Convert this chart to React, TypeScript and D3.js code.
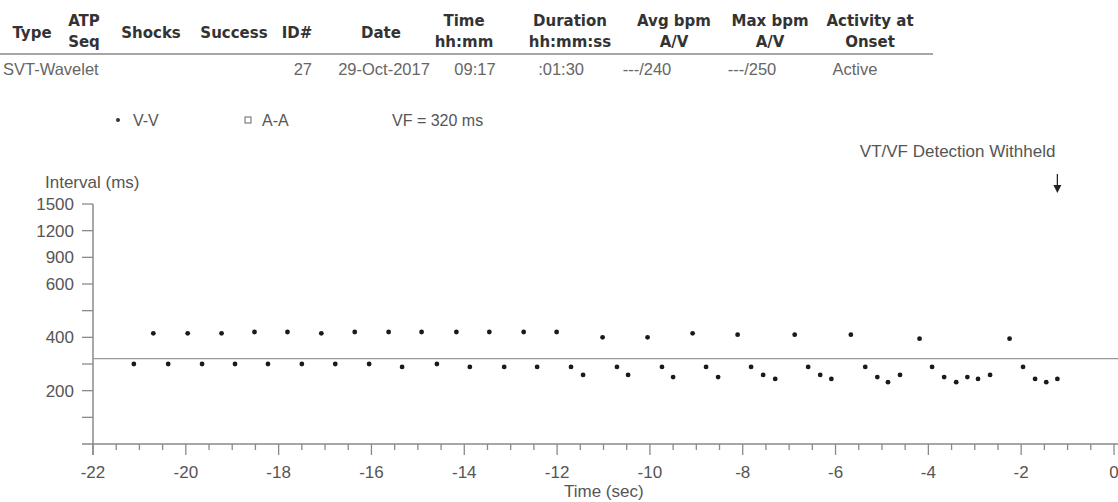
import * as d3 from 'd3';
import React from 'react';

const W = 1118;
const H = 502;

// header table
const headLines = [
  ['Type'], ['ATP', 'Seq'], ['Shocks'], ['Success'], ['ID#'], ['Date'],
  ['Time', 'hh:mm'], ['Duration', 'hh:mm:ss'], ['Avg bpm', 'A/V'], ['Max bpm', 'A/V'], ['Activity at', 'Onset']
];
const rowValues = ['SVT-Wavelet', '', '', '', '27', '29-Oct-2017', '09:17', ':01:30', '---/240', '---/250', 'Active'];

// V-V intervals: time (sec) and interval (ms)
const vvTime = [
  -21.12, -20.70, -20.38, -19.96, -19.65, -19.23, -18.94, -18.52, -18.23, -17.81,
  -17.50, -17.08, -16.78, -16.36, -16.05, -15.63, -15.34, -14.92, -14.59, -14.17,
  -13.88, -13.46, -13.14, -12.72, -12.43, -12.01, -11.70, -11.44, -11.02, -10.71,
  -10.47, -10.05, -9.74, -9.50, -9.08, -8.79, -8.53, -8.11, -7.82, -7.56,
  -7.30, -6.88, -6.59, -6.33, -6.09, -5.67, -5.36, -5.10, -4.87, -4.61,
  -4.19, -3.92, -3.66, -3.40, -3.16, -2.93, -2.67, -2.25, -1.96, -1.70,
  -1.46, -1.22
];
const vvMs = [
  300, 415, 300, 415, 300, 415, 300, 420, 300, 420,
  300, 415, 300, 420, 300, 420, 289, 420, 300, 420,
  289, 420, 289, 420, 289, 420, 289, 259, 400, 289,
  259, 400, 289, 251, 415, 289, 251, 410, 289, 259,
  244, 410, 289, 259, 244, 410, 289, 251, 232, 259,
  395, 289, 251, 232, 251, 244, 259, 395, 289, 244,
  232, 244
];

const xTicks = [-22, -20, -18, -16, -14, -12, -10, -8, -6, -4, -2, 0];
const xMinor = d3.range(-21.5, 0, 0.5);
const yLabelTicks = [200, 400, 600, 900, 1200, 1500];
const yMinorTicks = [100, 300, 500];
const vfMs = 320;
const withheldAt = -1.22;

const legendItems = ['V-V', 'A-A', 'VF = 320 ms'];

// layout
const colX = [32, 84, 151, 234, 297, 381, 464, 570, 674, 770, 870];
const rowX = [3, 0, 0, 0, 312, 384, 475, 584, 647, 752, 855];
const rowAnchor = ['start', 'middle', 'middle', 'middle', 'end', 'middle', 'middle', 'end', 'middle', 'middle', 'middle'];

const x = d3.scaleLinear().domain([-22, 0]).range([93, 1114]);
const y = d3.scaleLinear().domain([0, 600, 1500]).range([444, 284, 204]);

const txt = '#555';
const axisCol = '#8a8a8a';
const font = "'Liberation Sans', Arial, sans-serif";
const headFont = "'DejaVu Sans', Verdana, sans-serif";

export default function App() {
  const ax = x(-22);
  const ay = y(0);
  return (
    <div style={{ position: 'absolute', left: 0, top: 0 }}>
      <svg width={W} height={H} style={{ display: 'block', background: '#fff' }} fontFamily={font}>
        {/* header */}
        {headLines.map((lines, i) => lines.length === 1 ? (
          <text key={i} x={colX[i]} y={38} textAnchor="middle" fontFamily={headFont}
            fontWeight="bold" fontSize={15} fill="#333">{lines[0]}</text>
        ) : (
          <g key={i}>
            <text x={colX[i]} y={26} textAnchor="middle" fontFamily={headFont}
              fontWeight="bold" fontSize={15} fill="#333">{lines[0]}</text>
            <text x={colX[i]} y={47} textAnchor="middle" fontFamily={headFont}
              fontWeight="bold" fontSize={15} fill="#333">{lines[1]}</text>
          </g>
        ))}
        <line x1={0} x2={933} y1={54} y2={54} stroke="#888" strokeWidth={1.5} />
        {rowValues.map((v, i) => v ? (
          <text key={i} x={rowX[i]} y={75} textAnchor={rowAnchor[i]} fontSize={16.5} fill="#666">{v}</text>
        ) : null)}

        {/* legend */}
        <circle cx={118} cy={120} r={2} fill="#333" />
        <text x={133} y={126} fontSize={16} fill={txt}>{legendItems[0]}</text>
        <rect x={245} y={117} width={6} height={6} fill="none" stroke="#666" strokeWidth={1} />
        <text x={262} y={126} fontSize={16} fill={txt}>{legendItems[1]}</text>
        <text x={392} y={126} fontSize={16} fill={txt}>{legendItems[2]}</text>

        {/* detection withheld */}
        <text x={x(withheldAt) - 2} y={157} textAnchor="end" fontSize={17} fill={txt}>VT/VF Detection Withheld</text>
        <line x1={x(withheldAt)} x2={x(withheldAt)} y1={174} y2={186} stroke="#222" strokeWidth={1.3} />
        <path d={`M${x(withheldAt) - 4},185 L${x(withheldAt) + 4},185 L${x(withheldAt)},193 Z`} fill="#222" />

        {/* y axis */}
        <text x={45} y={188} fontSize={17} fill={txt}>Interval (ms)</text>
        <line x1={ax} x2={ax} y1={y(1500)} y2={ay + 11} stroke={axisCol} strokeWidth={1.5} />
        {yLabelTicks.concat(yMinorTicks).map(t => (
          <line key={t} x1={ax - 11} x2={ax} y1={y(t)} y2={y(t)} stroke={axisCol} strokeWidth={1.3} />
        ))}
        {yLabelTicks.map(t => (
          <text key={t} x={74} y={y(t) + 6} textAnchor="end" fontSize={17} fill={txt}>{t}</text>
        ))}

        {/* x axis */}
        <line x1={ax - 11} x2={W} y1={ay} y2={ay} stroke={axisCol} strokeWidth={1.5} />
        {xMinor.filter(t => !xTicks.includes(t)).map(t => (
          <line key={t} x1={x(t)} x2={x(t)} y1={ay} y2={ay + 6} stroke={axisCol} strokeWidth={1.3} />
        ))}
        {xTicks.map(t => (
          <g key={t}>
            <line x1={x(t)} x2={x(t)} y1={ay} y2={ay + 11} stroke={axisCol} strokeWidth={1.3} />
            <text x={x(t)} y={ay + 34} textAnchor="middle" fontSize={17} fill={txt}>{t}</text>
          </g>
        ))}
        <text x={564} y={497} fontSize={17} fill={txt}>Time (sec)</text>

        {/* VF threshold */}
        <line x1={ax} x2={W} y1={y(vfMs)} y2={y(vfMs)} stroke="#999" strokeWidth={1.3} />

        {/* V-V points */}
        {vvTime.map((t, i) => (
          <circle key={i} cx={x(t)} cy={y(vvMs[i])} r={2.4} fill="#1a1a1a" />
        ))}
      </svg>
    </div>
  );
}
